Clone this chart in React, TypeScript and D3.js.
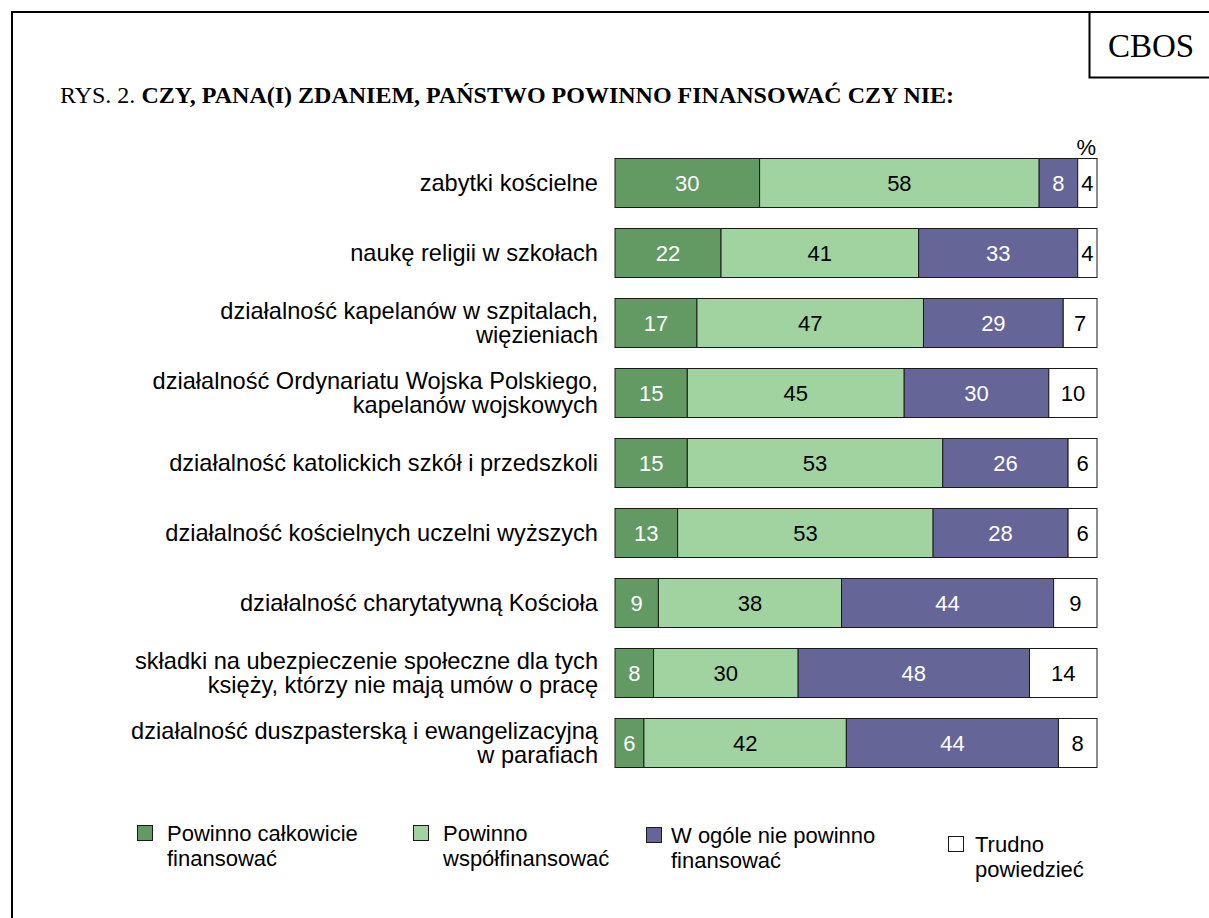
import React, { useEffect, useRef } from 'react';
import * as d3 from 'd3';

const categories = [
  ['zabytki kościelne'],
  ['naukę religii w szkołach'],
  ['działalność kapelanów w szpitalach,', 'więzieniach'],
  ['działalność Ordynariatu Wojska Polskiego,', 'kapelanów wojskowych'],
  ['działalność katolickich szkół i przedszkoli'],
  ['działalność kościelnych uczelni wyższych'],
  ['działalność charytatywną Kościoła'],
  ['składki na ubezpieczenie społeczne dla tych', 'księży, którzy nie mają umów o pracę'],
  ['działalność duszpasterską i ewangelizacyjną', 'w parafiach'],
];

const fullyFund = [30, 22, 17, 15, 15, 13, 9, 8, 6];
const coFund = [58, 41, 47, 45, 53, 53, 38, 30, 42];
const notFund = [8, 33, 29, 30, 26, 28, 44, 48, 44];
const hardToSay = [4, 4, 7, 10, 6, 6, 9, 14, 8];

const seriesNames = [
  ['Powinno całkowicie', 'finansować'],
  ['Powinno', 'współfinansować'],
  ['W ogóle nie powinno', 'finansować'],
  ['Trudno', 'powiedzieć'],
];
const colors = ['#639a63', '#a1d3a1', '#656598', '#ffffff'];
const textColors = ['#ffffff', '#000000', '#ffffff', '#000000'];

export default function App() {
  const ref = useRef<SVGSVGElement>(null);

  useEffect(() => {
    const svg = d3.select(ref.current);
    svg.selectAll('*').remove();
    const sans = 'Liberation Sans, Arial, sans-serif';
    const serif = 'Liberation Serif, Times New Roman, serif';

    // frame
    svg.append('path')
      .attr('d', 'M12,930 L12,12 L1215,12')
      .attr('fill', 'none').attr('stroke', '#000').attr('stroke-width', 2);
    svg.append('path')
      .attr('d', 'M1089.5,12 L1089.5,77.5 L1215,77.5')
      .attr('fill', 'none').attr('stroke', '#000').attr('stroke-width', 2);
    svg.append('text').attr('x', 1151).attr('y', 57).attr('text-anchor', 'middle')
      .attr('font-family', serif).attr('font-size', 33).text('CBOS');

    const title = svg.append('text').attr('x', 60).attr('y', 103)
      .attr('font-family', serif).attr('font-size', 24);
    title.append('tspan').text('RYS. 2. ');
    title.append('tspan').attr('font-weight', 'bold')
      .text('CZY, PANA(I) ZDANIEM, PAŃSTWO POWINNO FINANSOWAĆ CZY NIE:');

    const rows = categories.map((c, i) => ({
      label: c,
      vals: [fullyFund[i], coFund[i], notFund[i], hardToSay[i]],
    }));

    const x = d3.scaleLinear().domain([0, 100]).range([615, 1097]);
    const y = d3.scaleBand().domain(d3.range(rows.length).map(String))
      .range([148, 778]).paddingInner(0.3).paddingOuter(0.15);

    svg.append('text').attr('x', 1096).attr('y', 155).attr('text-anchor', 'end')
      .attr('font-family', sans).attr('font-size', 22).text('%');

    rows.forEach((r, i) => {
      const y0 = y(String(i))!;
      const bh = y.bandwidth();
      let acc = 0;
      r.vals.forEach((v, k) => {
        const x0 = x(acc);
        const x1 = x(acc + v);
        acc += v;
        svg.append('rect')
          .attr('x', x0).attr('y', y0).attr('width', x1 - x0).attr('height', bh)
          .attr('fill', colors[k]).attr('stroke', '#1a1a1a').attr('stroke-width', 1);
        svg.append('text')
          .attr('x', (x0 + x1) / 2).attr('y', y0 + bh / 2 + 8)
          .attr('text-anchor', 'middle').attr('font-family', sans).attr('font-size', 22)
          .attr('fill', textColors[k]).text(v);
      });
      const cy = y0 + bh / 2;
      const lines = r.label;
      lines.forEach((line, j) => {
        const off = lines.length === 1 ? 0 : (j === 0 ? -12 : 12);
        svg.append('text')
          .attr('x', 598).attr('y', cy + off + 8)
          .attr('text-anchor', 'end').attr('font-family', sans).attr('font-size', 23.6)
          .attr('fill', '#000').text(line);
      });
    });

    // legend
    const legendX = [137, 413, 646, 948];
    const legendText = [167, 443, 671, 975];
    const legendY = [841, 841, 843, 852];
    seriesNames.forEach((name, k) => {
      svg.append('rect')
        .attr('x', legendX[k] + 0.5).attr('y', legendY[k] - 15.5).attr('width', 15).attr('height', 15)
        .attr('fill', colors[k]).attr('stroke', '#1a1a1a').attr('stroke-width', 1);
      name.forEach((line, j) => {
        svg.append('text')
          .attr('x', legendText[k]).attr('y', legendY[k] + j * 25)
          .attr('font-family', sans).attr('font-size', 22).attr('fill', '#000').text(line);
      });
    });
  }, []);

  return (
    <svg ref={ref} width={1209} height={918}
      style={{ position: 'absolute', left: 0, top: 0, background: '#fff' }} />
  );
}
